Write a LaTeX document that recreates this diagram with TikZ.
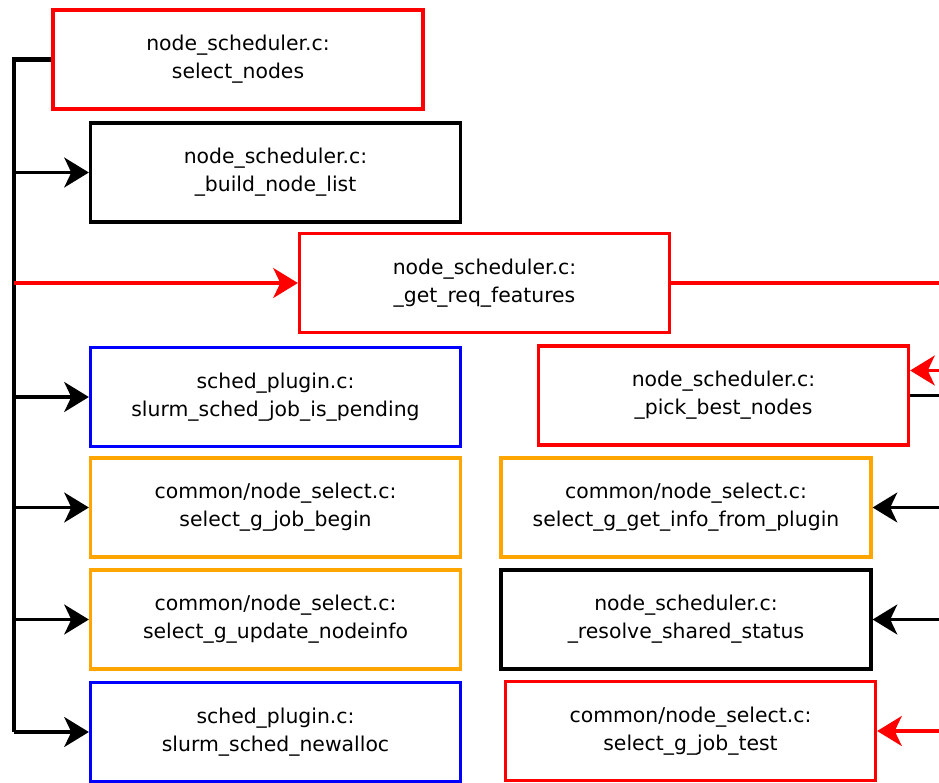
\documentclass[tikz,border=0pt]{standalone}
\usepackage{fontspec}
\setmainfont{DejaVu Sans}
\usepackage{tikz}
\usetikzlibrary{arrows.meta, positioning, calc}
\definecolor{fnred}{HTML}{FF0000}
\definecolor{fnblue}{HTML}{0000FF}
\definecolor{fnorange}{HTML}{FFA500}
\tikzstyle{block}  = [rectangle, minimum width=7.4cm, minimum height=1.98cm,
                      align=center, line width=1.9pt, draw=black, fill=white,
                      font=\fontsize{11.6}{16}\selectfont]
\tikzstyle{block2} = [block, draw=fnred]
\tikzstyle{block3} = [block, draw=fnblue]
\tikzstyle{block4} = [block, draw=fnorange]
\tikzstyle{arrow}  = [-{Stealth[length=14pt, width=17pt, inset=4pt]},
                      line width=1.9pt]
\tikzstyle{trunk}  = [line width=2.6pt, line join=miter]

\begin{document}
\begin{tikzpicture}[x=0.02cm, y=-0.02cm]
  \useasboundingbox (0,0) rectangle (939,782);

  %% -- call chain, left column --
  \node[block2] (sel)      at (238,59.5)  {node\_scheduler.c:\\select\_nodes};
  \node[block]  (build)    at (275.5,172.5) {node\_scheduler.c:\\\_build\_node\_list};
  \node[block2] (reqfeat)  at (484.5,283) {node\_scheduler.c:\\\_get\_req\_features};
  \node[block3] (pending)  at (275.5,397) {sched\_plugin.c:\\slurm\_sched\_job\_is\_pending};
  \node[block4] (jobbegin) at (275.5,507.5) {common/node\_select.c:\\select\_g\_job\_begin};
  \node[block4] (updinfo)  at (275.5,619.5) {common/node\_select.c:\\select\_g\_update\_nodeinfo};
  \node[block3] (newalloc) at (275.5,732) {sched\_plugin.c:\\slurm\_sched\_newalloc};

  %% -- right column --
  \node[block2] (pickbest) at (723.5,395.5) {node\_scheduler.c:\\\_pick\_best\_nodes};
  \node[block4] (getinfo)  at (686,507.5) {common/node\_select.c:\\select\_g\_get\_info\_from\_plugin};
  \node[block]  (shared)   at (686,619.5) {node\_scheduler.c:\\\_resolve\_shared\_status};
  \node[block2] (jobtest)  at (690.5,731) {common/node\_select.c:\\select\_g\_job\_test};

  %% -- helper points --
  \coordinate (trunk) at (14,59.5);
  \coordinate (rim) at (950,0);
  \coordinate (pickin) at ($(pickbest.east)+(0,-25)$);

  %% -- trunk on the left --
  \draw[trunk] (sel.west) -- (trunk) -- (trunk |- newalloc.west);
  \draw[arrow] (trunk |- build.west) -- (build.west);
  \draw[arrow, fnred] (trunk |- reqfeat.west) -- (reqfeat.west);
  \draw[arrow] (trunk |- pending.west) -- (pending.west);
  \draw[arrow] (trunk |- jobbegin.west) -- (jobbegin.west);
  \draw[arrow] (trunk |- updinfo.west) -- (updinfo.west);
  \draw[arrow] (trunk |- newalloc.west) -- (newalloc.west);

  %% -- lines off to the right --
  \draw[line width=1.9pt, fnred] (reqfeat.east) -- (reqfeat.east -| rim);
  \draw[arrow, fnred] (pickin -| rim) -- (pickin);
  \draw[line width=1.9pt] (pickbest.east) -- (pickbest.east -| rim);
  \draw[arrow] (getinfo.east -| rim) -- (getinfo.east);
  \draw[arrow] (shared.east -| rim) -- (shared.east);
  \draw[arrow, fnred] (jobtest.east -| rim) -- (jobtest.east);

\end{tikzpicture}
\end{document}
